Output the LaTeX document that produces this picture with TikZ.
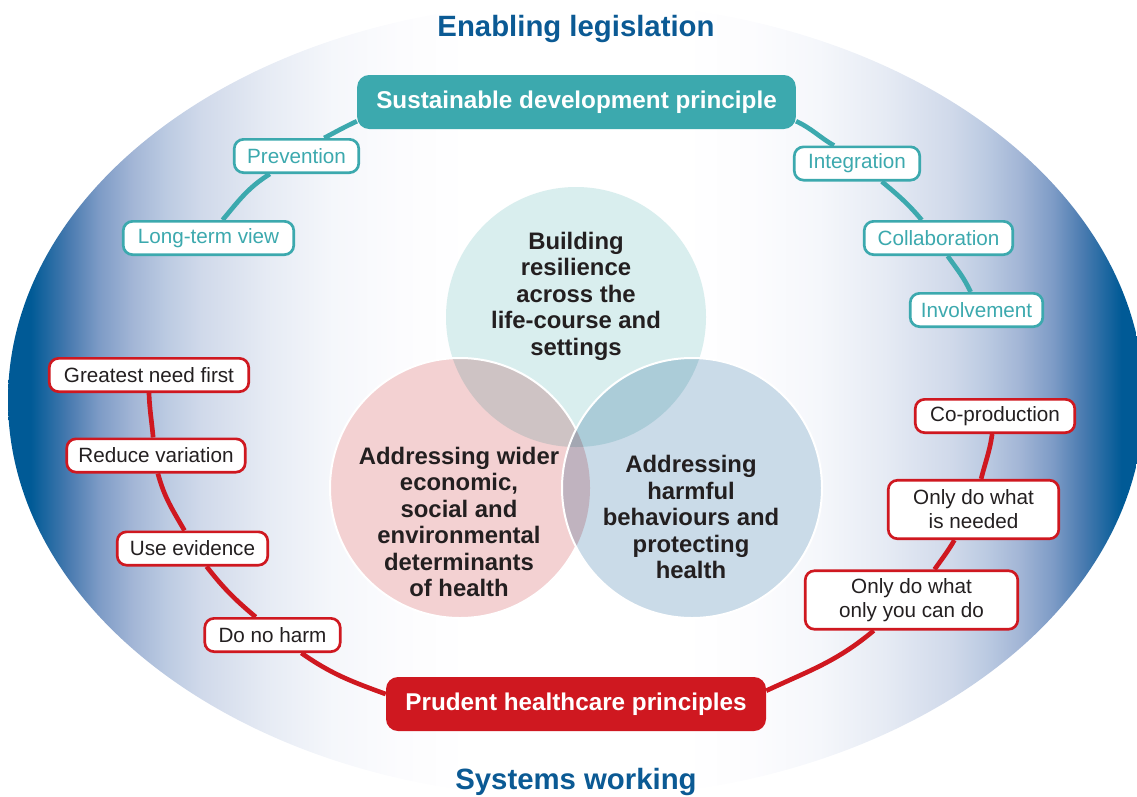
\documentclass[tikz,border=0pt]{standalone}
\usepackage{fontspec}
\setmainfont{Liberation Sans}
\usetikzlibrary{calc}
\definecolor{edgeblue}{HTML}{005A96}
\definecolor{g1}{HTML}{4A7BB0}
\definecolor{g2}{HTML}{7D9BC6}
\definecolor{g3}{HTML}{A3B6D6}
\definecolor{g4}{HTML}{BCCBE2}
\definecolor{g5}{HTML}{D0D9EA}
\definecolor{g6}{HTML}{E6EBF4}
\definecolor{g7}{HTML}{F5F7FB}
\definecolor{g8}{HTML}{FCFCFE}
\definecolor{tealc}{HTML}{3CA9AE}
\definecolor{pred}{HTML}{CF1820}
\definecolor{titleblue}{HTML}{0B5A94}
\definecolor{ctop}{HTML}{D9EEEE}
\definecolor{cleft}{HTML}{F3D1D2}
\definecolor{cright}{HTML}{CADBE8}
\definecolor{ink}{HTML}{231F20}
\pgfdeclarehorizontalshading{bgshade}{100bp}{%
color(0bp)=(edgeblue); color(25bp)=(edgeblue); color(26bp)=(edgeblue);
color(27.7bp)=(g1); color(29bp)=(g2); color(30.5bp)=(g3); color(32bp)=(g4);
color(33.5bp)=(g5); color(36.4bp)=(g6); color(39.3bp)=(g7); color(42.3bp)=(g8);
color(45.3bp)=(white); color(54.7bp)=(white);
color(57.7bp)=(g8); color(60.7bp)=(g7); color(63.6bp)=(g6); color(66.5bp)=(g5);
color(68bp)=(g4); color(69.5bp)=(g3); color(71bp)=(g2); color(72.3bp)=(g1);
color(74bp)=(edgeblue); color(100bp)=(edgeblue)}
\pgfdeclarelayer{bg}
\pgfdeclarelayer{lines}
\pgfsetlayers{bg,lines,main}
\tikzset{
  tealbox/.style={draw=tealc, fill=white, line width=2pt, rounded corners=7pt,
    text=tealc, font=\fontsize{15.5}{18}\selectfont, inner sep=0pt,
    minimum height=25pt, align=center},
  redbox/.style={tealbox, draw=pred, text=ink},
  headbox/.style={rounded corners=9pt, inner sep=0pt, text=white,
    font=\bfseries\fontsize{18.2}{22}\selectfont, minimum height=40.5pt},
  circtext/.style={text=ink, font=\bfseries\fontsize{17.9}{19.9}\selectfont,
    align=center, inner sep=0pt},
  titletext/.style={text=titleblue, font=\bfseries\fontsize{22}{26}\selectfont,
    inner sep=0pt, anchor=base},
  tealline/.style={draw=tealc, line width=3.5pt},
  redline/.style={draw=pred, line width=3.5pt},
  venn/.style={line width=1.5pt, white}
}
\begin{document}
\begin{tikzpicture}[x=0.75pt,y=0.75pt]
\useasboundingbox (0,0) rectangle (1137,-796);
\begin{pgfonlayer}{bg}
  \shade[shading=bgshade] (576,-400) ellipse [x radius=568, y radius=398];
  \begin{scope}[blend group=multiply]
    \fill[ctop] (576,-317) circle [radius=130];
    \fill[cleft] (460,-488) circle [radius=130];
    \fill[cright] (692,-488) circle [radius=130];
  \end{scope}
  \begin{scope}[even odd rule]
    \clip (0,0) rectangle (1137,-796) (692,-488) circle [radius=130];
    \draw[venn] (460,-488) circle [radius=130];
  \end{scope}
  \draw[venn] (692,-488) circle [radius=130];
\end{pgfonlayer}

% titles
\node[titletext] (enl) at (576,-36) {Enabling legislation};
\node[titletext] (sysw) at (576,-789) {Systems working};

% headers
\node[headbox, fill=tealc, minimum width=329pt] (sdp) at (576.5,-102) {Sustainable development principle};
\node[headbox, fill=pred, minimum width=285pt] (phc) at (576,-704) {Prudent healthcare principles};

% teal boxes
\node[tealbox, minimum width=93.4pt] (prev) at (296.5,-156) {Prevention};
\node[tealbox, minimum width=127.9pt] (ltv) at (208.5,-238) {Long-term view};
\node[tealbox, minimum width=94.1pt] (integ) at (857,-163.5) {Integration};
\node[tealbox, minimum width=111.4pt] (collab) at (938.5,-238) {Collaboration};
\node[tealbox, minimum width=99.4pt] (invol) at (976.5,-310) {Involvement};

% red boxes
\node[redbox, minimum width=149.6pt] (gnf) at (149,-375) {Greatest need first};
\node[redbox, minimum width=133.9pt] (rv) at (156,-455.5) {Reduce variation};
\node[redbox, minimum width=112.9pt] (ue) at (192.5,-548.5) {Use evidence};
\node[redbox, minimum width=101.6pt] (dnh) at (272.5,-635) {Do no harm};
\node[redbox, minimum width=119.6pt] (cop) at (995,-416) {Co-production};
\node[redbox, minimum width=127.9pt, minimum height=43.9pt] (ndd) at (973.5,-509.5) {Only do what\\is needed};
\node[redbox, minimum width=159.4pt, minimum height=43.9pt] (oyc) at (911.5,-600) {Only do what\\only you can do};

% circle texts
\node[circtext] (ctop) at (576,-296) {Building\\resilience\\across the\\life-course and\\settings};
\node[circtext] (cleft) at (459,-522) {Addressing wider\\economic,\\social and\\environmental\\determinants\\of health};
\node[circtext] (cright) at (691,-517) {Addressing\\harmful\\behaviours and\\protecting\\health};

% connectors
\begin{pgfonlayer}{lines}
  \draw[tealline] (ltv.52) to[out=50,in=212] (prev.214);
  \draw[tealline] (prev.33) to[out=28,in=205] (sdp.185);
  \draw[tealline] (sdp.-5) to[out=-25,in=150] (integ.142);
  \draw[tealline] (integ.-36) to[out=-40,in=130] (collab.133);
  \draw[tealline] (collab.-63) to[out=-55,in=115] (invol.108);
  \draw[redline] (gnf.-90) to[out=-88,in=95] (rv.99);
  \draw[redline] (rv.-84) to[out=-75,in=120] (ue.114);
  \draw[redline] (ue.-52) to[out=-52,in=140] (dnh.133);
  \draw[redline] (dnh.-32) to[out=-35,in=160] (phc.177);
  \draw[redline] (phc.4) to[out=25,in=220] (oyc.219);
  \draw[redline] (oyc.53) to[out=55,in=240] (ndd.238);
  \draw[redline] (ndd.76) to[out=76,in=262] (cop.261);
\end{pgfonlayer}
\end{tikzpicture}
\end{document}
